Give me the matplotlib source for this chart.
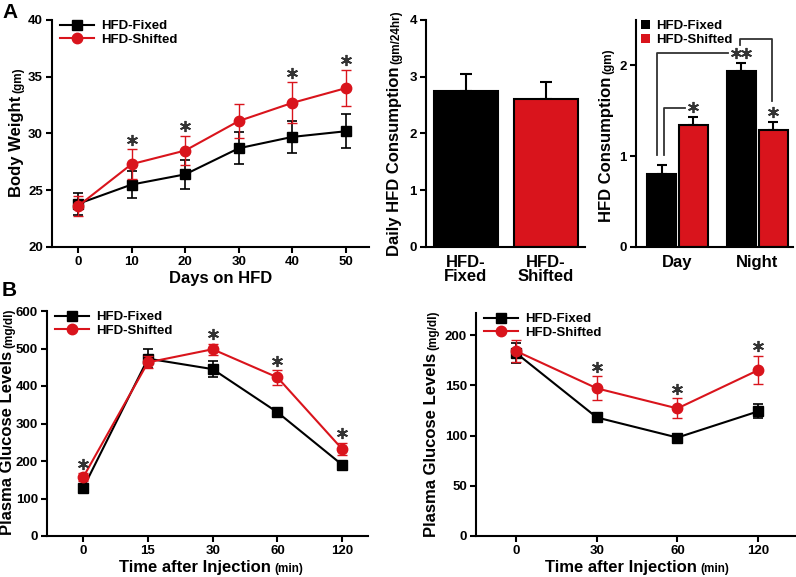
import matplotlib
matplotlib.use('Agg')
import matplotlib.pyplot as plt
from matplotlib.patches import Patch
from matplotlib.lines import Line2D
from matplotlib.transforms import offset_copy

plt.rcParams['font.family'] = ['Liberation Sans', 'DejaVu Sans']
plt.rcParams['font.weight'] = 'bold'

W, H = 796, 577
RED = '#d9141c'

# body weight over time
days = [0, 10, 20, 30, 40, 50]
bw_fixed = [23.8, 25.5, 26.4, 28.7, 29.7, 30.2]
bw_fixed_err = [1.0, 1.2, 1.3, 1.4, 1.4, 1.5]
bw_shift = [23.6, 27.3, 28.5, 31.1, 32.7, 34.0]
bw_shift_err = [0.9, 1.3, 1.3, 1.5, 1.8, 1.6]
bw_sig = [False, True, True, False, True, True]

# daily HFD consumption
daily_groups = ['HFD-\nFixed', 'HFD-\nShifted']
daily_vals = [2.75, 2.61]
daily_err = [0.29, 0.29]

# day / night consumption
periods = ['Day', 'Night']
dn_fixed = [0.80, 1.94]
dn_fixed_err = [0.10, 0.09]
dn_shift = [1.34, 1.29]
dn_shift_err = [0.09, 0.09]

# glucose tolerance
gtt_times = ['0', '15', '30', '60', '120']
gtt_fixed = [128, 473, 445, 330, 190]
gtt_fixed_err = [8, 25, 22, 11, 7]
gtt_shift = [157, 463, 498, 423, 232]
gtt_shift_err = [10, 16, 14, 19, 16]
gtt_sig = [True, False, True, True, True]

# insulin tolerance
itt_times = ['0', '30', '60', '120']
itt_fixed = [182, 118, 98, 124]
itt_fixed_err = [10, 4, 3, 7]
itt_shift = [184, 147, 127, 165]
itt_shift_err = [11, 12, 10, 14]
itt_sig = [False, True, True, True]

TICK = 9.5
LAB = 12
SMALL = 8.5
LEG = 9.5

fig = plt.figure(figsize=(W / 100, H / 100), dpi=100)
renderer = fig.canvas.get_renderer()


def px_axes(l, t, r, b):
    return fig.add_axes([l / W, 1 - b / H, (r - l) / W, (b - t) / H])


def style(ax):
    for s in ['top', 'right']:
        ax.spines[s].set_visible(False)
    for s in ['left', 'bottom']:
        ax.spines[s].set_linewidth(1.5)
    ax.tick_params(width=1.5, length=4.5, pad=2, labelsize=TICK)


def ylabel2(big, small, x_px, yc_px, size=LAB, small_size=SMALL):
    t1 = fig.text(0, 0, big, fontsize=size, rotation=90, rotation_mode='anchor',
                  ha='left', va='baseline')
    t2 = fig.text(0, 0, small, fontsize=small_size, rotation=90, rotation_mode='anchor',
                  ha='left', va='baseline')
    h1 = t1.get_window_extent(renderer).height
    h2 = t2.get_window_extent(renderer).height
    gap = 3
    y0 = (H - yc_px) - (h1 + gap + h2) / 2
    t1.set_position((x_px / W, y0 / H))
    t2.set_position((x_px / W, (y0 + h1 + gap) / H))


def xlabel2(big, small, xc_px, y_px, size=LAB, small_size=SMALL):
    t1 = fig.text(0, 0, big, fontsize=size, ha='left', va='baseline')
    t2 = fig.text(0, 0, small, fontsize=small_size, ha='left', va='baseline')
    w1 = t1.get_window_extent(renderer).width
    w2 = t2.get_window_extent(renderer).width if small else 0
    gap = 3
    x0 = xc_px - (w1 + gap + w2) / 2
    t1.set_position((x0 / W, 1 - y_px / H))
    t2.set_position(((x0 + w1 + gap) / W, 1 - y_px / H))


def star(ax, x, y, n=1):
    # six-armed asterisk, placed a few points above the error bar tip
    for k in range(n):
        dx = (k - (n - 1) / 2) * 7
        tr = offset_copy(ax.transData, fig=fig, x=dx, y=7, units='points')
        ax.plot([x], [y], marker=(6, 2, 0), ms=8, mew=1.3, color='#333333',
                transform=tr, clip_on=False, zorder=5)


def line_panel(ax, x, fixed, fixed_err, shift, shift_err, sig):
    ax.errorbar(x, fixed, yerr=fixed_err, fmt='-s', color='black', ms=7, lw=1.5,
                capsize=3.5, elinewidth=1.2, capthick=1.2, zorder=2)
    ax.errorbar(x, shift, yerr=shift_err, fmt='-o', color=RED, ms=7.5, lw=1.5,
                capsize=3.5, elinewidth=1.0, capthick=1.0, zorder=3)
    for xi, v, e, flag in zip(x, shift, shift_err, sig):
        if flag:
            star(ax, xi, v + e)
    handles = [Line2D([], [], color='black', marker='s', ms=7, lw=1.5, label='HFD-Fixed'),
               Line2D([], [], color=RED, marker='o', ms=7.5, lw=1.5, label='HFD-Shifted')]
    ax.legend(handles=handles, loc='upper left', bbox_to_anchor=(0.025, 1.0), frameon=False,
              fontsize=LEG, handlelength=2.6, handletextpad=0.5, labelspacing=0.1,
              borderpad=0, borderaxespad=0)


# ---- A: body weight
ax1 = px_axes(52, 20, 369, 247)
style(ax1)
line_panel(ax1, days, bw_fixed, bw_fixed_err, bw_shift, bw_shift_err, bw_sig)
ax1.set_xlim(-4.85, 54.3)
ax1.set_ylim(20, 40)
ax1.set_xticks(days)
ax1.set_yticks([20, 25, 30, 35, 40])
ylabel2('Body Weight', '(gm)', 21, 132)
xlabel2('Days on HFD', '', 222, 283)

# ---- A: daily consumption
ax2 = px_axes(426, 20, 585, 247)
style(ax2)
ax2.bar([0, 1], daily_vals, width=0.8, color=['black', RED], edgecolor='black',
        linewidth=1.5, zorder=2)
ax2.errorbar([0, 1], daily_vals, yerr=[[0, 0], daily_err], fmt='none', ecolor='black',
             elinewidth=1.5, capsize=4, capthick=1.5, zorder=1)
ax2.set_xlim(-0.5, 1.49)
ax2.set_ylim(0, 4)
ax2.set_yticks([0, 1, 2, 3, 4])
ax2.set_xticks([0, 1])
ax2.set_xticklabels(daily_groups, fontsize=LAB, linespacing=0.9)
ax2.tick_params(axis='x', length=0, pad=6)
ylabel2('Daily HFD Consumption', '(gm/24hr)', 399, 133)

# ---- A: day / night
ax3 = px_axes(636, 20, 793, 247)
style(ax3)
bw = 0.365
off = 0.2
gx = [0, 1]
xf = [g - off for g in gx]
xs = [g + off for g in gx]
ax3.bar(xf, dn_fixed, width=bw, color='black', edgecolor='black', linewidth=1.5, zorder=2)
ax3.bar(xs, dn_shift, width=bw, color=RED, edgecolor='black', linewidth=1.5, zorder=2)
ax3.errorbar(xf, dn_fixed, yerr=[[0, 0], dn_fixed_err], fmt='none', ecolor='black',
             elinewidth=1.5, capsize=3.5, capthick=1.5, zorder=1)
ax3.errorbar(xs, dn_shift, yerr=[[0, 0], dn_shift_err], fmt='none', ecolor='black',
             elinewidth=1.5, capsize=3.5, capthick=1.5, zorder=1)
ax3.set_xlim(-0.52, 1.45)
ax3.set_ylim(0, 2.5)
ax3.set_yticks([0, 1, 2])
ax3.set_xticks(gx)
ax3.set_xticklabels(periods, fontsize=LAB)
ax3.tick_params(axis='x', length=0, pad=6)
ylabel2('HFD Consumption', '(gm)', 611, 135)

# significance brackets
base = dn_fixed[0] + dn_fixed_err[0] + 0.11
top_night = dn_fixed[1] + dn_fixed_err[1]
ax3.plot([xf[0] - 0.06, xf[0] - 0.06, xf[1] - 0.16], [base, top_night + 0.11, top_night + 0.11],
         color='#333333', lw=1.3)
ax3.plot([xf[0] + 0.03, xf[0] + 0.03, xs[0] - 0.11],
         [base, dn_shift[0] + dn_shift_err[0] + 0.1, dn_shift[0] + dn_shift_err[0] + 0.1],
         color='#333333', lw=1.3)
ax3.plot([xf[1] - 0.02, xf[1] - 0.02, xs[1] - 0.01, xs[1] - 0.01],
         [top_night + 0.2, top_night + 0.26, top_night + 0.26, dn_shift[1] + dn_shift_err[1] + 0.23],
         color='#333333', lw=1.3)
star(ax3, xs[0], dn_shift[0] + dn_shift_err[0])
star(ax3, xf[1], dn_fixed[1] + dn_fixed_err[1], n=2)
star(ax3, xs[1], dn_shift[1] + dn_shift_err[1])
ax3.legend(handles=[Patch(facecolor='black', label='HFD-Fixed'),
                    Patch(facecolor=RED, label='HFD-Shifted')],
           loc='upper left', bbox_to_anchor=(0.03, 1.0), frameon=False, fontsize=LEG,
           handlelength=0.7, handleheight=0.7, handletextpad=0.5, labelspacing=0.1,
           borderpad=0, borderaxespad=0)

# ---- B: glucose tolerance
ax4 = px_axes(47, 311, 368, 536)
style(ax4)
line_panel(ax4, range(len(gtt_times)), gtt_fixed, gtt_fixed_err, gtt_shift, gtt_shift_err, gtt_sig)
ax4.set_xlim(-0.56, 4.4)
ax4.set_ylim(0, 600)
ax4.set_xticks(range(len(gtt_times)))
ax4.set_xticklabels(gtt_times)
ax4.set_yticks(range(0, 601, 100))
ylabel2('Plasma Glucose Levels', '(mg/dl)', 12, 422)
xlabel2('Time after Injection', '(min)', 211, 572)

# ---- B: insulin tolerance
ax5 = px_axes(476, 313, 795, 536)
style(ax5)
line_panel(ax5, range(len(itt_times)), itt_fixed, itt_fixed_err, itt_shift, itt_shift_err, itt_sig)
ax5.set_xlim(-0.5, 3.46)
ax5.set_ylim(0, 222)
ax5.set_xticks(range(len(itt_times)))
ax5.set_xticklabels(itt_times)
ax5.set_yticks([0, 50, 100, 150, 200])
ylabel2('Plasma Glucose Levels', '(mg/dl)', 436, 424)
xlabel2('Time after Injection', '(min)', 637, 572)

fig.text(2 / W, 1 - 3 / H, 'A', fontsize=15, ha='left', va='top')
fig.text(2 / W, 1 - 281 / H, 'B', fontsize=15, ha='left', va='top')

fig.savefig('out.png', dpi=100)
